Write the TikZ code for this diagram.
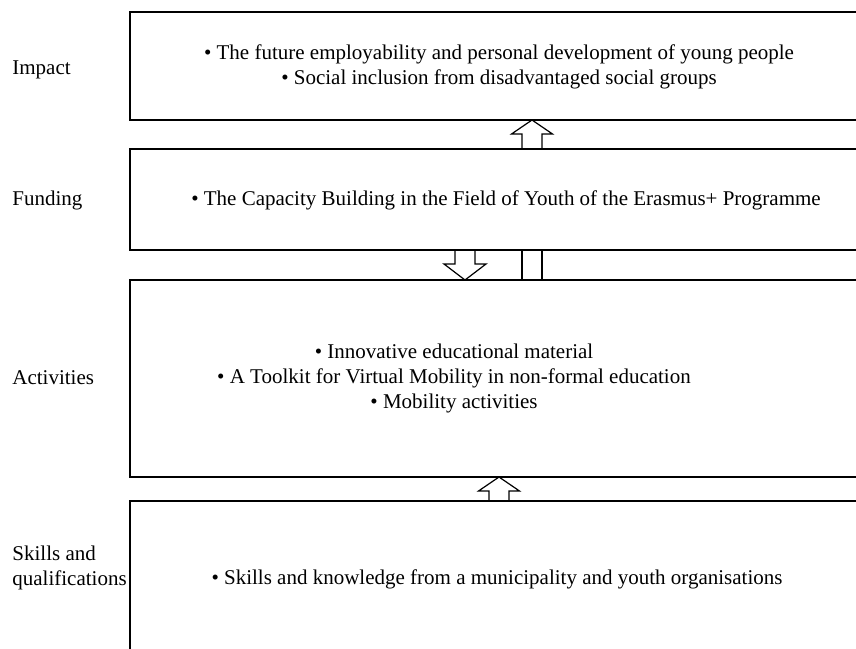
\documentclass[tikz,border=0pt]{standalone}
\usepackage{fontspec}
\setmainfont{Liberation Serif}
\usetikzlibrary{positioning,fit}
\tikzset{
  pics/uparrow/.style={code={
    \draw[line width=0.6pt] (-10,#1) -- (-10,14) -- (-20.5,14) -- (0,0) -- (20.5,14) -- (10,14) -- (10,#1);}},
  pics/downarrow/.style={code={
    \draw[line width=0.6pt] (-10,-#1) -- (-10,-16) -- (-21,-16) -- (0,0) -- (21,-16) -- (10,-16) -- (10,-#1);}}
}
\begin{document}
\begin{tikzpicture}[x=0.5pt,y=-0.5pt,
  box/.style={draw,line width=0.6pt,inner sep=0pt},
  txt/.style={align=center,font=\fontsize{10.5}{12.5}\selectfont},
  lbl/.style={anchor=west,align=left,inner sep=0pt,font=\fontsize{10.5}{12.5}\selectfont}]
\useasboundingbox (0,0) rectangle (856,648);
\clip (0,0) rectangle (856,648);
\path
(130,12) coordinate (i1) (880,120) coordinate (i2)
(130,149) coordinate (f1) (880,250) coordinate (f2)
(130,280) coordinate (a1) (880,477) coordinate (a2)
(130,501) coordinate (s1) (880,670) coordinate (s2);
\node [box,fit=(i1) (i2)](impact) {};
\node [box,fit=(f1) (f2)](funding) {};
\node [box,fit=(a1) (a2)](activities) {};
\node [box,fit=(s1) (s2)](skills) {};
\node [txt] (t1) at (499,67) {• The future employability and personal development of young people\\• Social inclusion from disadvantaged social groups};
\node [txt] (t2) at (506,200) {• The Capacity Building in the Field of Youth of the Erasmus+ Programme};
\node [txt] (t3) at (454,378) {• Innovative educational material\\• A Toolkit for Virtual Mobility in non-formal education\\• Mobility activities};
\node [txt] (t4) at (497,579) {• Skills and knowledge from a municipality and youth organisations};
\node [lbl] (l1) at (12,70) {Impact};
\node [lbl] (l2) at (12,200) {Funding};
\node [lbl] (l3) at (12,378) {Activities};
\node [lbl] (l4) at (12,568) {Skills and\\qualifications};
\pic at (532,120) {uparrow=29};
\pic at (465,280) {downarrow=30};
\draw [line width=0.6pt] (522,250) -- (522,280) (542,250) -- (542,280);
\pic at (499,477) {uparrow=24};
\end{tikzpicture}
\end{document}
